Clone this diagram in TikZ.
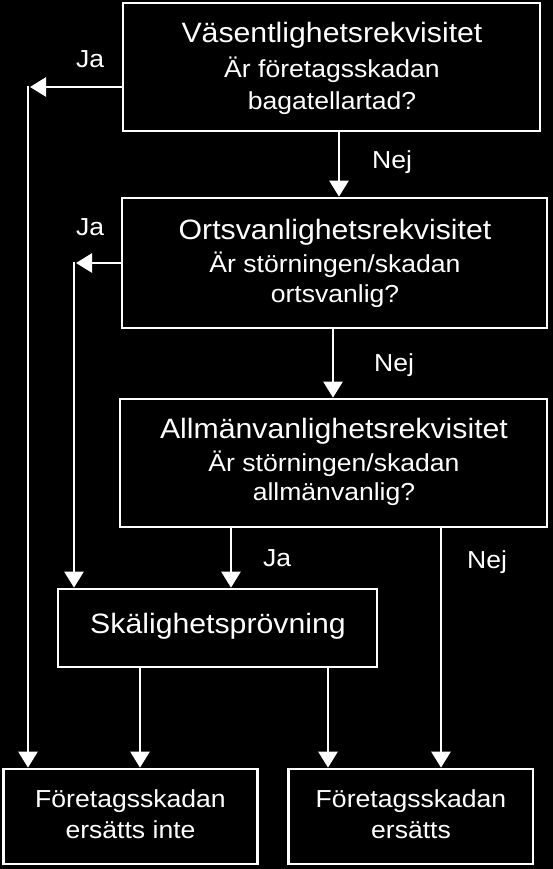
\documentclass[tikz,border=0pt]{standalone}
\usepackage{fontspec}
\setmainfont[FakeStretch=1.08]{Liberation Sans}
\usetikzlibrary{arrows.meta}
\begin{document}
\begin{tikzpicture}[x=1pt,y=-1pt,
  box/.style={draw=white, line width=2.7pt, fill=black, inner sep=0pt},
  big/.style={text=white, font=\fontsize{28}{30}\selectfont, inner sep=0pt, anchor=base},
  small/.style={text=white, font=\fontsize{24.6}{27}\selectfont, inner sep=0pt, anchor=base},
  lbl/.style={text=white, font=\fontsize{24.6}{27}\selectfont, inner sep=0pt, anchor=base west},
  arr/.style={draw=white, line width=2.7pt, -{Triangle[width=19pt,length=16pt]}}]
\fill[black] (0,0) rectangle (553,869);
\useasboundingbox (0,0) rectangle (553,869);

% boxes
\node[box, minimum width=417pt, minimum height=128pt] (B1) at (331.5,67) {};
\node[box, minimum width=425pt, minimum height=130pt] (B2) at (334.5,263) {};
\node[box, minimum width=427pt, minimum height=128pt] (B3) at (333.5,463) {};
\node[box, minimum width=319pt, minimum height=78pt] (S) at (217.5,628) {};
\node[box, minimum width=254pt, minimum height=95pt] (A) at (130.5,816.5) {};
\node[box, minimum width=244.5pt, minimum height=95pt] (B) at (410.75,816.5) {};

% box texts
\node[big] (B1t) at (332,43) {Väsentlighetsrekvisitet};
\node[small] (B1a) at (332,78) {Är företagsskadan};
\node[small] (B1b) at (332,110) {bagatellartad?};
\node[big] (B2t) at (335,239) {Ortsvanlighetsrekvisitet};
\node[small] (B2a) at (335,272) {Är störningen/skadan};
\node[small] (B2b) at (335,302) {ortsvanlig?};
\node[big] (B3t) at (334,438) {Allmänvanlighetsrekvisitet};
\node[small] (B3a) at (334,471.5) {Är störningen/skadan};
\node[small] (B3b) at (334,500) {allmänvanlig?};
\node[big] (St) at (218,633) {Skälighetsprövning};
\node[small] (At) at (130.5,807) {Företagsskadan};
\node[small] (Ab) at (130.5,838) {ersätts inte};
\node[small] (Bt) at (411,807) {Företagsskadan};
\node[small] (Bb) at (411,838) {ersätts};

% labels
\node[lbl] (L1) at (76,68) {Ja};
\node[lbl] (L2) at (76,235) {Ja};
\node[lbl] (L3) at (372,168) {Nej};
\node[lbl] (L4) at (374,371.5) {Nej};
\node[lbl] (L5) at (263,566.5) {Ja};
\node[lbl] (L6) at (467,568) {Nej};

% helper coordinates
\coordinate (t1) at (30,87);
\coordinate (v1) at (28,85.7);
\coordinate (t2) at (76,263);
\coordinate (v2) at (74,261.7);
\coordinate (x1) at (339,0);
\coordinate (x2) at (333,0);
\coordinate (x3) at (231,0);
\coordinate (x4) at (441,0);
\coordinate (x5) at (140,0);
\coordinate (x6) at (328,0);

% connectors
\draw[arr] (B1.west |- t1) -- (t1);
\draw[arr] (v1) -- (A.north -| v1);
\draw[arr] (B2.west |- t2) -- (t2);
\draw[arr] (v2) -- (S.north -| v2);
\draw[arr] (B1.south -| x1) -- (B2.north -| x1);
\draw[arr] (B2.south -| x2) -- (B3.north -| x2);
\draw[arr] (B3.south -| x3) -- (S.north -| x3);
\draw[arr] (B3.south -| x4) -- (B.north -| x4);
\draw[arr] (S.south -| x5) -- (A.north -| x5);
\draw[arr] (S.south -| x6) -- (B.north -| x6);
\end{tikzpicture}
\end{document}
